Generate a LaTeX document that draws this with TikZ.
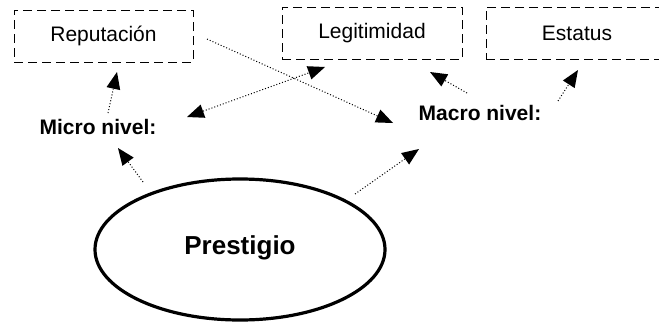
\documentclass[tikz,border=0pt]{standalone}
\usepackage{fontspec}
\setmainfont{Liberation Sans}
\usetikzlibrary{arrows.meta,calc,shapes.geometric}

\begin{document}
\begin{tikzpicture}[x=0.5pt,y=-0.5pt,
box/.style={%
draw,
dash pattern=on 4.5pt off 2.5pt,
line width=0.5pt,
minimum height=26pt,
font=\fontsize{10.5}{12}\selectfont
},
level/.style={%
font=\fontsize{10.5}{12}\selectfont\bfseries,
inner sep=0pt
},
link/.style={%
densely dotted,
line width=0.5pt,
-{Triangle[length=8.5pt,width=7pt,line width=0pt]}
},
]
\clip(0,0)rectangle(659,322);
%% boxes
\node[box,minimum width=89.5pt]at(103.5,36)(rep){Reputación};
\node[box,minimum width=90pt]at(372,33)(leg){Legitimidad};
\node[box,minimum width=91pt]at(577,33)(est){Estatus};
%% levels
\node[level]at(98,127)(micro){Micro nivel:};
\node[level]at(480,113)(macro){Macro nivel:};
%% centre
\node[ellipse,draw,line width=1.6pt,minimum width=145pt,minimum height=70.5pt,
font=\fontsize{13}{15}\selectfont\bfseries]at(240,249.5)(pres){\raisebox{4pt}{Prestigio}};
%% links
\draw[link]($(micro)+(10,-14)$)--($(rep)+(13.5,36)$);
\draw[link]($(pres)+(-97,-67.5)$)--($(micro)+(20,21)$);
\draw[link,{Triangle[length=8.5pt,width=7pt,line width=0pt]}-{Triangle[length=8.5pt,width=7pt,line width=0pt]}]
  ($(micro)+(89,-10)$)--($(leg)+(-47,34)$);
\draw[link]($(rep)+(103.5,3)$)--($(macro)+(-87,10)$);
\draw[link]($(macro)+(-13,-20)$)--($(leg)+(58,39)$);
\draw[link]($(macro)+(78,-12)$)--($(est)+(1,37)$);
\draw[link]($(pres)+(115,-55.5)$)--($(macro)+(-61,36)$);
\end{tikzpicture}
\end{document}
